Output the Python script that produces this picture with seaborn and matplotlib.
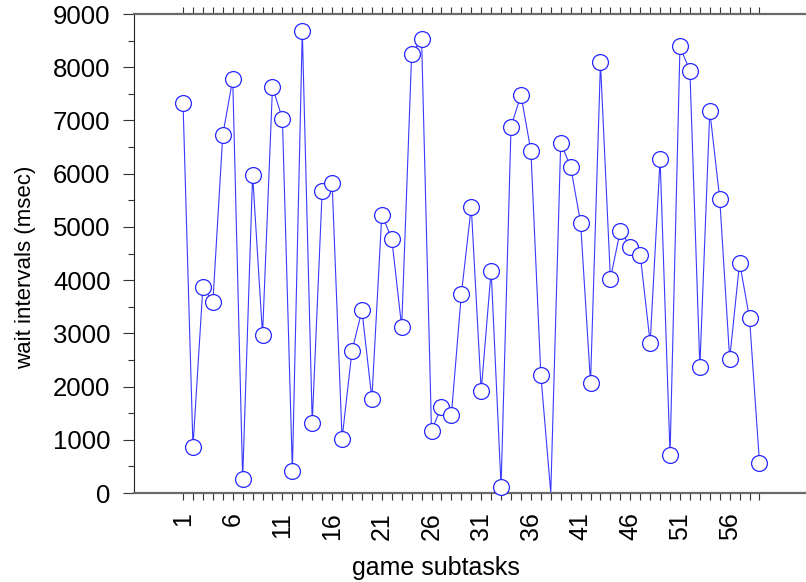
import numpy as np
import pandas as pd
import matplotlib
matplotlib.use("Agg")
import matplotlib.pyplot as plt
import seaborn as sns
from matplotlib.ticker import FixedLocator, MultipleLocator

# wait interval per game subtask (msec)
subtasks = list(range(1, 60))
wait_msec = [7330, 870, 3880, 3580, 6730, 7780, 270, 5980, 2970, 7630,
             7030, 420, 8690, 1320, 5680, 5830, 1020, 2670, 3430, 1770,
             5230, 4780, 3120, 8240, 8540, 1170, 1620, 1470, 3730, 5380,
             1920, 4180, 120, 6880, 7480, 6430, 2220, 0, 6580, 6130,
             5080, 2070, 8090, 4030, 4930, 4630, 4480, 2820, 6280, 720,
             8390, 7930, 2370, 7180, 5530, 2520, 4330, 3280, 570]
label_ticks = list(range(1, 57, 5))

sns.set_style("white")
plt.rcParams['font.family'] = ['Liberation Sans', 'DejaVu Sans']
plt.rcParams['text.color'] = 'black'
plt.rcParams['axes.labelcolor'] = 'black'
plt.rcParams['xtick.color'] = 'black'
plt.rcParams['ytick.color'] = 'black'

df = pd.DataFrame({'subtask': subtasks, 'wait': wait_msec})
shown = df[df['wait'] > 0]

fig = plt.figure(figsize=(8.06, 5.82), dpi=100)
ax = fig.add_axes([0.1663, 0.1529, 0.8337, 0.823])

sns.lineplot(data=df, x='subtask', y='wait', ax=ax, color='#3a3aff',
             linewidth=0.8, zorder=2)
sns.scatterplot(data=shown, x='subtask', y='wait', ax=ax, s=130,
                facecolor='white', edgecolor='#2626ff', linewidth=0.9,
                zorder=3, clip_on=False)

ax.set_xlim(-3.93, 63.68)
ax.set_ylim(0, 9000)

ax.xaxis.set_major_locator(FixedLocator(label_ticks))
ax.xaxis.set_minor_locator(FixedLocator(subtasks))
ax.set_xticklabels([str(t) for t in label_ticks], rotation=90)
ax.yaxis.set_major_locator(MultipleLocator(1000))
ax.yaxis.set_minor_locator(MultipleLocator(500))

ax.tick_params(axis='x', which='both', direction='out', length=5, width=0.8,
               color='#333333', top=True, bottom=True, labelsize=18, pad=9,
               labelcolor='black')
ax.tick_params(axis='y', which='major', direction='out', length=8, width=0.8,
               color='#333333', left=True, labelsize=18.5, pad=9,
               labelcolor='black')
ax.tick_params(axis='y', which='minor', direction='out', length=4.3,
               width=0.8, color='#333333', left=True)

for side in ['top', 'bottom']:
    ax.spines[side].set_color('#6a6a6a')
    ax.spines[side].set_linewidth(1.6)
ax.spines['left'].set_color('#222222')
ax.spines['left'].set_linewidth(0.8)
ax.spines['right'].set_visible(False)

ax.set_xlabel('game subtasks', fontsize=18, color='black')
ax.set_ylabel('wait intervals (msec)', fontsize=16, color='black')
ax.xaxis.set_label_coords(0.449, -0.157)
ax.xaxis.label.set_va('center')
ax.yaxis.set_label_coords(-0.162, 0.471)
ax.yaxis.label.set_va('center')

fig.savefig('out.png', dpi=100)
